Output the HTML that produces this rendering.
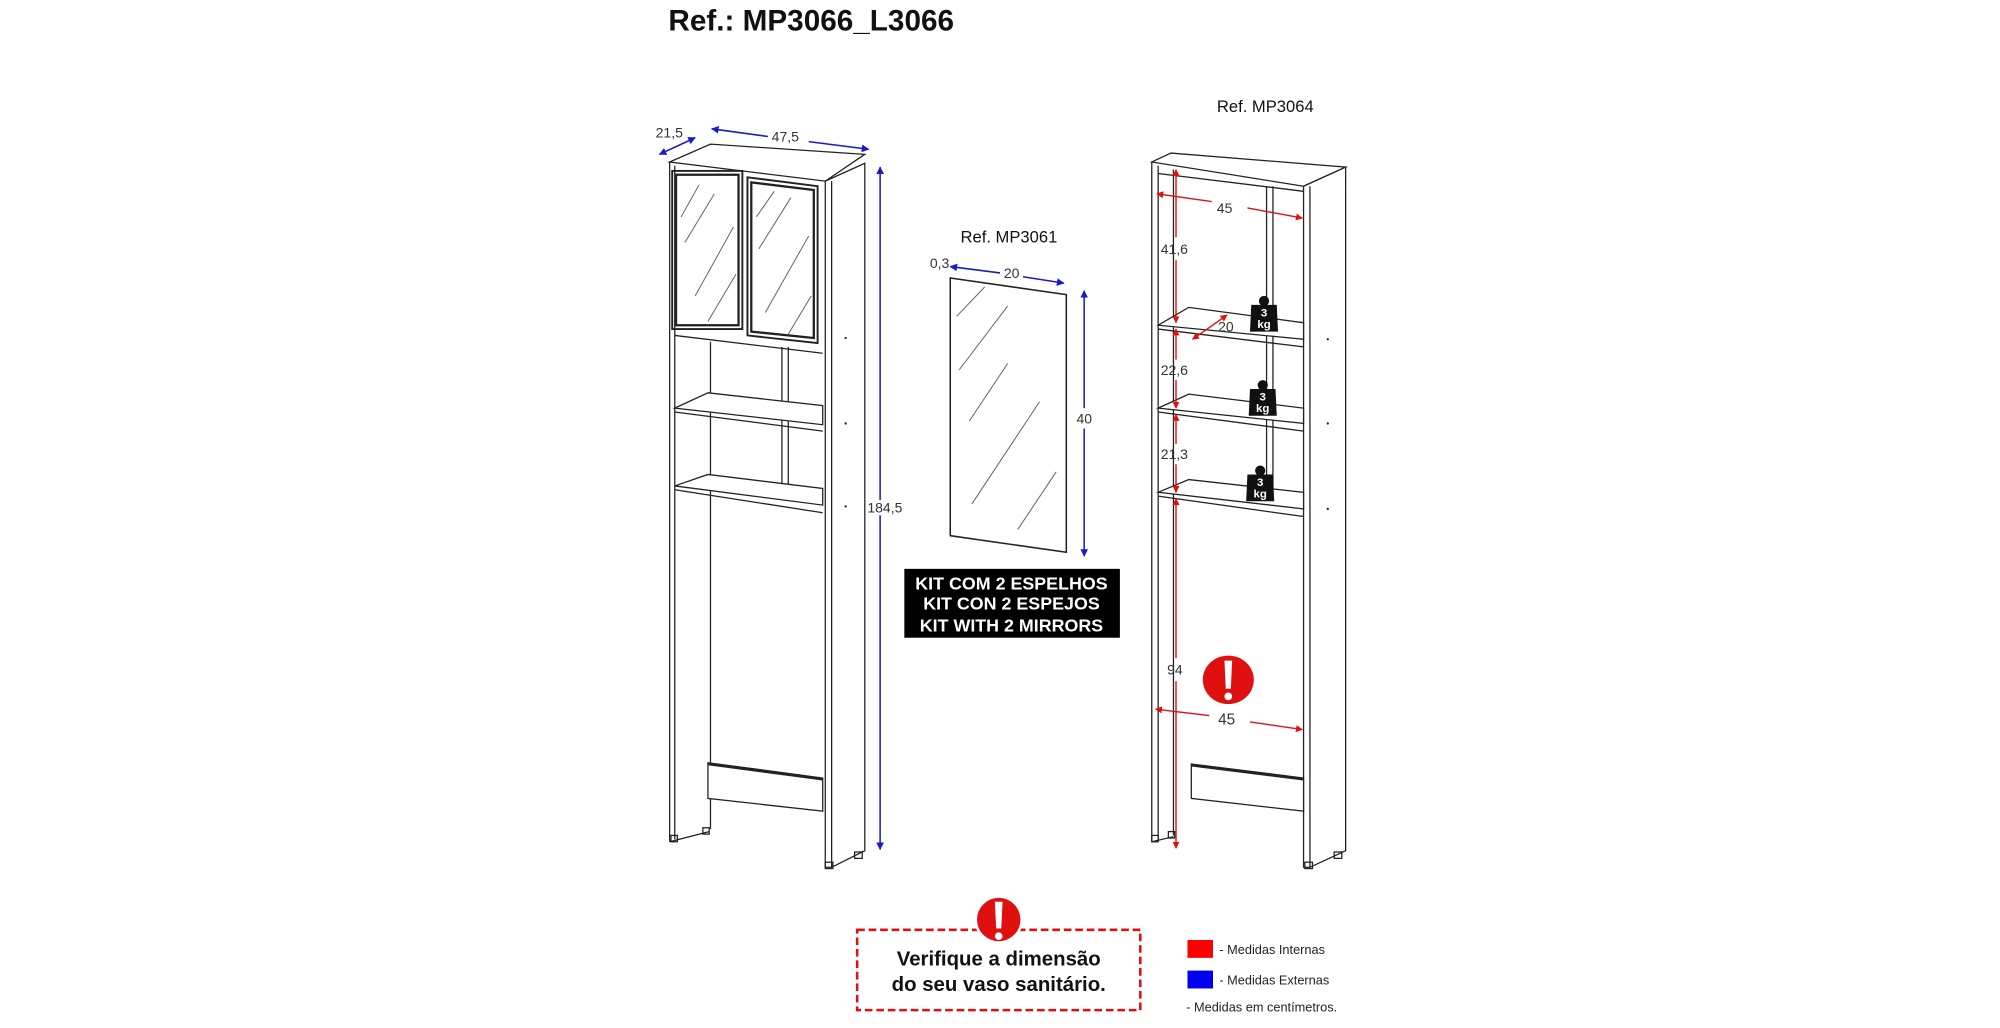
<!DOCTYPE html>
<html><head><meta charset="utf-8"><style>
html,body{margin:0;padding:0;background:#fff;}
svg{display:block;}
text{font-family:"Liberation Sans",Arial,sans-serif;}
</style></head><body>
<svg width="2000" height="1028" viewBox="0 0 1568 806" xmlns="http://www.w3.org/2000/svg">
<defs>
<marker id="ab" viewBox="0 0 10 10" refX="9" refY="5" markerWidth="5" markerHeight="5" orient="auto-start-reverse"><path d="M0,0L10,5L0,10z" fill="#1a1ac8"/></marker>
<marker id="ar" viewBox="0 0 10 10" refX="9" refY="5" markerWidth="5" markerHeight="5" orient="auto-start-reverse"><path d="M0,0L10,5L0,10z" fill="#e01010"/></marker>
<g id="kb">
<circle cx="0" cy="-12" r="4" fill="#111"/>
<path d="M-10,-9 L10,-9 L11,12 L-11,12 Z" fill="#111"/>
<text x="0" y="0" font-size="9" font-weight="bold" fill="#fff" text-anchor="middle">3</text>
<text x="0" y="9" font-size="9" font-weight="bold" fill="#fff" text-anchor="middle">kg</text>
</g>
</defs>

<text x="524" y="24" font-size="23.3" font-weight="bold" fill="#111">Ref.: MP3066_L3066</text>

<!-- LEFT CABINET -->
<g stroke="#222" stroke-width="1" fill="none">
<polygon points="525,127 557,113 678,121 647,142" fill="#fff"/>
<polygon points="647,142 678,128 678,667 652,680 647,680"/>
<line x1="652" y1="142" x2="652" y2="680"/>
<line x1="525" y1="127" x2="525" y2="660"/>
<line x1="529" y1="130" x2="529" y2="658"/>
<line x1="525" y1="660" x2="556" y2="652"/>
<rect x="527" y="134" width="55" height="124" stroke-width="1.5"/>
<rect x="530" y="137" width="49" height="118" stroke-width="1.8"/>
<polygon points="586,139 641,146 641,269 586,263" stroke-width="1.5"/>
<polygon points="589,143 638,149 638,265 589,260" stroke-width="1.8"/>
<line x1="529" y1="263" x2="645" y2="277"/>
<line x1="557" y1="268" x2="557" y2="650"/>
<line x1="613" y1="272" x2="613" y2="385"/>
<line x1="618" y1="272" x2="618" y2="385"/>
<polygon points="529,320 555,308 645,318 645,333" fill="#fff"/>
<line x1="529" y1="323" x2="645" y2="338"/>
<polygon points="529,381 555,372 645,383 645,396" fill="#fff"/>
<line x1="529" y1="384" x2="645" y2="402"/>
<polygon points="555,598 645,610 645,636 555,626" fill="#fff"/>
<line x1="555" y1="599" x2="645" y2="611" stroke-width="2"/>
<rect x="526" y="655" width="5" height="5"/><rect x="551" y="649" width="5" height="5"/>
<rect x="647" y="676" width="6" height="5"/><rect x="670" y="668" width="6" height="5"/>
</g>
<g stroke="#666" stroke-width="0.8">
<line x1="534" y1="170" x2="548" y2="145"/><line x1="537" y1="190" x2="560" y2="152"/>
<line x1="545" y1="232" x2="575" y2="178"/><line x1="555" y1="252" x2="577" y2="215"/>
<line x1="593" y1="170" x2="607" y2="150"/><line x1="595" y1="195" x2="620" y2="155"/>
<line x1="600" y1="245" x2="634" y2="185"/><line x1="618" y1="262" x2="636" y2="232"/>
</g>
<circle cx="663" cy="265" r="0.9" fill="#222"/><circle cx="663" cy="332" r="0.9" fill="#222"/><circle cx="663" cy="397" r="0.9" fill="#222"/>

<g stroke="#1a1ac8" stroke-width="1.2" fill="none">
<line x1="517" y1="121" x2="545" y2="108" marker-start="url(#ab)" marker-end="url(#ab)"/>
<line x1="558" y1="101" x2="602" y2="107" marker-start="url(#ab)"/>
<line x1="634" y1="111" x2="681" y2="117" marker-end="url(#ab)"/>
<line x1="690" y1="131" x2="690" y2="392" marker-start="url(#ab)"/>
<line x1="690" y1="404" x2="690" y2="666" marker-end="url(#ab)"/>
</g>
<text x="514" y="108" font-size="11" fill="#333">21,5</text>
<text x="605" y="111" font-size="11" fill="#333">47,5</text>
<text x="680" y="402" font-size="11" fill="#333">184,5</text>

<!-- MIRROR -->
<text x="791" y="190" font-size="13" fill="#111" text-anchor="middle">Ref. MP3061</text>
<polygon points="745,218 836,231 836,433 745,420" fill="#fff" stroke="#222" stroke-width="1.2"/>
<g stroke="#666" stroke-width="0.8">
<line x1="750" y1="248" x2="772" y2="225"/><line x1="752" y1="290" x2="790" y2="240"/>
<line x1="760" y1="330" x2="790" y2="285"/><line x1="762" y1="395" x2="815" y2="315"/>
<line x1="798" y1="415" x2="828" y2="370"/>
</g>
<g stroke="#1a1ac8" stroke-width="1.2" fill="none">
<line x1="745" y1="209" x2="784" y2="214" marker-start="url(#ab)"/>
<line x1="802" y1="217" x2="834" y2="222" marker-end="url(#ab)"/>
<line x1="850" y1="228" x2="850" y2="320" marker-start="url(#ab)"/>
<line x1="850" y1="336" x2="850" y2="436" marker-end="url(#ab)"/>
</g>
<text x="729" y="210" font-size="11" fill="#333">0,3</text>
<text x="787" y="218" font-size="11" fill="#333">20</text>
<text x="844" y="332" font-size="11" fill="#333">40</text>
<rect x="709" y="446" width="169" height="54" fill="#000"/>
<g font-size="14" font-weight="bold" fill="#fff" text-anchor="middle">
<text x="793" y="462">KIT COM 2 ESPELHOS</text>
<text x="793" y="478">KIT CON 2 ESPEJOS</text>
<text x="793" y="495">KIT WITH 2 MIRRORS</text>
</g>

<!-- RIGHT CABINET -->
<text x="992" y="88" font-size="13" fill="#111" text-anchor="middle">Ref. MP3064</text>
<g stroke="#222" stroke-width="1" fill="none">
<polygon points="903,127 918,120 1055,131 1022,146" fill="#fff"/>
<line x1="903" y1="127" x2="903" y2="660"/>
<line x1="908" y1="130" x2="908" y2="658"/>
<line x1="903" y1="660" x2="920" y2="656"/>
<line x1="920" y1="133" x2="920" y2="655"/>
<line x1="908" y1="136" x2="1022" y2="150"/>
<polygon points="1022,146 1055,131 1055,667 1027,680 1022,680"/>
<line x1="1027" y1="146" x2="1027" y2="680"/>
<line x1="993" y1="146" x2="993" y2="392"/>
<line x1="998" y1="146" x2="998" y2="392"/>
<polygon points="908,255 932,241 1022,253 1022,266" fill="#fff"/>
<line x1="908" y1="258" x2="1022" y2="272"/>
<polygon points="908,320 932,309 1022,320 1022,332" fill="#fff"/>
<line x1="908" y1="323" x2="1022" y2="338"/>
<polygon points="908,386 932,376 1022,386 1022,399" fill="#fff"/>
<line x1="908" y1="389" x2="1022" y2="405"/>
<polygon points="934,599 1022,610 1022,636 934,626" fill="#fff"/>
<line x1="934" y1="600" x2="1022" y2="611" stroke-width="2"/>
<rect x="903" y="655" width="5" height="5"/><rect x="916" y="652" width="5" height="5"/>
<rect x="1023" y="676" width="6" height="5"/><rect x="1046" y="668" width="6" height="5"/>
</g>
<circle cx="1041" cy="266" r="0.9" fill="#222"/><circle cx="1041" cy="332" r="0.9" fill="#222"/><circle cx="1041" cy="399" r="0.9" fill="#222"/>
<g stroke="#e01010" stroke-width="1.1" fill="none">
<line x1="922" y1="133" x2="922" y2="186" marker-start="url(#ar)"/>
<line x1="922" y1="204" x2="922" y2="253" marker-end="url(#ar)"/>
<line x1="922" y1="258" x2="922" y2="282" marker-start="url(#ar)"/>
<line x1="922" y1="298" x2="922" y2="320" marker-end="url(#ar)"/>
<line x1="922" y1="325" x2="922" y2="348" marker-start="url(#ar)"/>
<line x1="922" y1="364" x2="922" y2="386" marker-end="url(#ar)"/>
<line x1="922" y1="391" x2="922" y2="516" marker-start="url(#ar)"/>
<line x1="922" y1="534" x2="922" y2="665" marker-end="url(#ar)"/>
<line x1="907" y1="152" x2="950" y2="158" marker-start="url(#ar)"/>
<line x1="978" y1="163" x2="1021" y2="171" marker-end="url(#ar)"/>
<line x1="906" y1="556" x2="948" y2="561" marker-start="url(#ar)"/>
<line x1="980" y1="566" x2="1021" y2="572" marker-end="url(#ar)"/>
<line x1="935" y1="266" x2="962" y2="247" marker-start="url(#ar)" marker-end="url(#ar)"/>
</g>
<g font-size="11" fill="#333">
<text x="910" y="199">41,6</text>
<text x="910" y="294">22,6</text>
<text x="910" y="360">21,3</text>
<text x="915" y="529">94</text>
<text x="954" y="167">45</text>
<text x="955" y="260">20</text>
<text x="955" y="568" font-size="12">45</text>
</g>
<use href="#kb" x="991" y="248"/>
<use href="#kb" x="990" y="314"/>
<use href="#kb" x="988" y="381"/>
<g><ellipse cx="963" cy="533" rx="20" ry="19" fill="#e01010"/>
<path d="M960,518 L966,518 L965,540 L961,540 Z" fill="#fff"/><circle cx="963" cy="546" r="3" fill="#fff"/></g>

<!-- BOTTOM NOTE -->
<rect x="672" y="729" width="222" height="63" fill="none" stroke="#e01010" stroke-width="2" stroke-dasharray="6,3"/>
<g><circle cx="783" cy="721" r="18" fill="#e01010" stroke="#fff" stroke-width="2"/>
<path d="M780,707 L786,707 L785,728 L781,728 Z" fill="#fff"/><circle cx="783" cy="734" r="3" fill="#fff"/></g>
<text x="783" y="757" font-size="16" font-weight="bold" fill="#111" text-anchor="middle">Verifique a dimensão</text>
<text x="783" y="777" font-size="16" font-weight="bold" fill="#111" text-anchor="middle">do seu vaso sanitário.</text>
<rect x="931" y="737" width="20" height="14" fill="#f00"/>
<text x="956" y="748" font-size="10" fill="#222">- Medidas Internas</text>
<rect x="931" y="761" width="20" height="14" fill="#0000f0"/>
<text x="956" y="772" font-size="10" fill="#222">- Medidas Externas</text>
<text x="930" y="793" font-size="10" fill="#222">- Medidas em centímetros.</text>
</svg>
</body></html>
